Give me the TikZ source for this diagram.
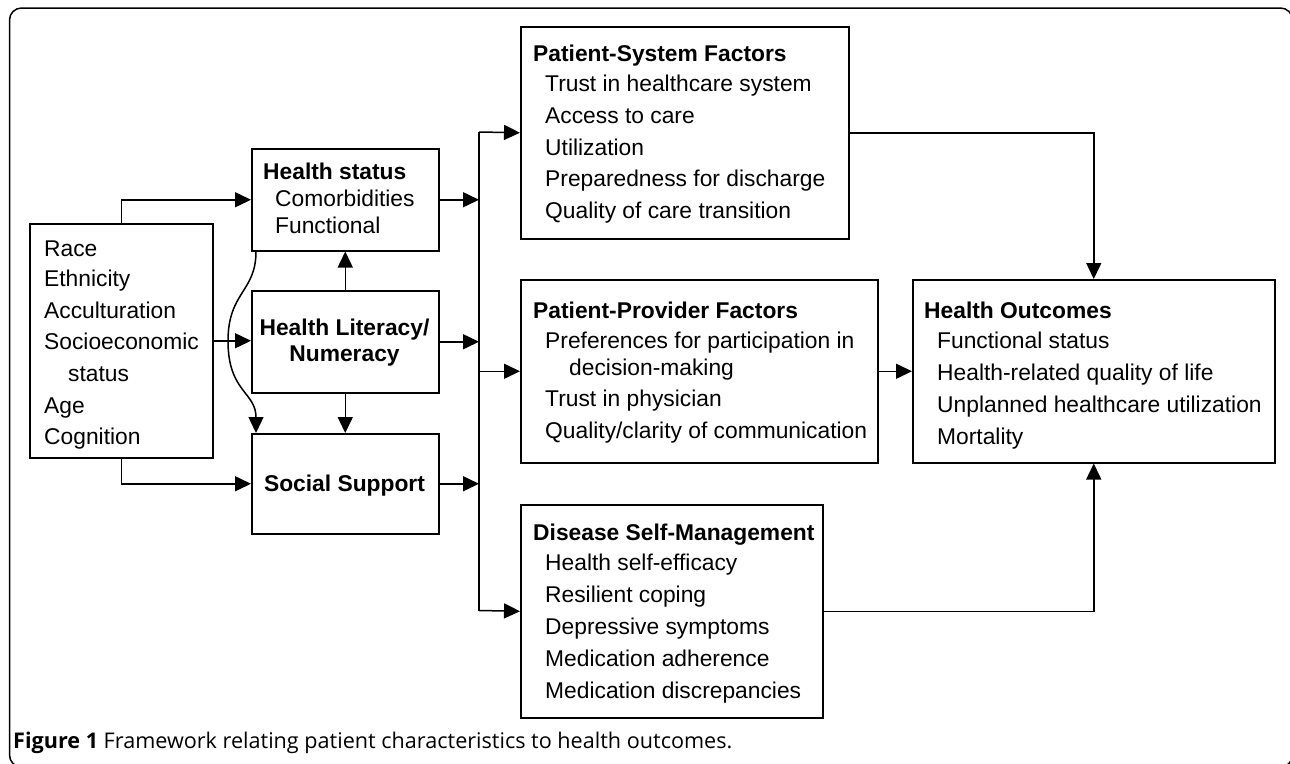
\documentclass[tikz,border=0pt]{standalone}
\usepackage{fontspec}
\setmainfont{Liberation Sans}
\newfontfamily\capfont{Open Sans}
\usetikzlibrary{arrows.meta}
\begin{document}
\begin{tikzpicture}[x=1pt,y=-1pt,
  box/.style={draw, line width=1.5pt, inner sep=0pt, anchor=north west},
  txt/.style={anchor=base west, inner sep=0pt, font=\fontsize{22.8}{30}\selectfont},
  ctxt/.style={anchor=base, inner sep=0pt, font=\fontsize{22.8}{30}\selectfont\bfseries},
  ttl/.style={anchor=base west, inner sep=0pt, font=\fontsize{22.8}{30}\selectfont\bfseries},
  ln/.style={line width=1.5pt},
  conn/.style={line width=1.5pt, -{Triangle[length=16pt,width=15pt]}}]
\useasboundingbox (0,0) rectangle (1290,763);
% outer frame
\draw[line width=1.5pt, rounded corners=12pt] (9.5,8) rectangle (1292.5,767);

% boxes
\node[box, minimum width=183pt, minimum height=234pt] (demo) at (29,223) {};
\node[box, minimum width=187pt, minimum height=102pt] (hs) at (251,148) {};
\node[box, minimum width=187pt, minimum height=102pt] (hl) at (251,290) {};
\node[box, minimum width=187pt, minimum height=100pt] (ss) at (251,433) {};
\node[box, minimum width=328pt, minimum height=212pt] (psf) at (520,26) {};
\node[box, minimum width=357pt, minimum height=183pt] (pp) at (520,279) {};
\node[box, minimum width=302pt, minimum height=213pt] (dsm) at (520,504) {};
\node[box, minimum width=362pt, minimum height=183pt] (ho) at (912,279) {};

% demographic texts
\node[txt] (d1) at (44,256) {Race};
\node[txt] (d2) at (44,286) {Ethnicity};
\node[txt] (d3) at (44,318) {Acculturation};
\node[txt] (d4) at (44,349) {Socioeconomic};
\node[txt] (d5) at (68,381) {status};
\node[txt] (d6) at (44,413) {Age};
\node[txt] (d7) at (44,444) {Cognition};

% health status
\node[ttl] (hst) at (263,179) {Health status};
\node[txt] (hs1) at (275,206) {Comorbidities};
\node[txt] (hs2) at (275,233) {Functional};

% health literacy
\node[ctxt] (hlt1) at (344.5,335) {Health Literacy/};
\node[ctxt] (hlt2) at (344.5,361) {Numeracy};

% social support
\node[ctxt] (sst) at (344.5,491) {Social Support};

% patient-system
\node[ttl] (psft) at (533,61) {Patient-System Factors};
\node[txt] (psf1) at (545,91) {Trust in healthcare system};
\node[txt] (psf2) at (545,123) {Access to care};
\node[txt] (psf3) at (545,155) {Utilization};
\node[txt] (psf4) at (545,186) {Preparedness for discharge};
\node[txt] (psf5) at (545,218) {Quality of care transition};

% patient-provider
\node[ttl] (ppt) at (533,318) {Patient-Provider Factors};
\node[txt] (pp1) at (545,348) {Preferences for participation in};
\node[txt] (pp2) at (569,375) {decision-making};
\node[txt] (pp3) at (545,406) {Trust in physician};
\node[txt] (pp4) at (545,438) {Quality/clarity of communication};

% disease self-management
\node[ttl] (dsmt) at (533,540) {Disease Self-Management};
\node[txt] (dsm1) at (545,570) {Health self-efficacy};
\node[txt] (dsm2) at (545,602) {Resilient coping};
\node[txt] (dsm3) at (545,634) {Depressive symptoms};
\node[txt] (dsm4) at (545,666) {Medication adherence};
\node[txt] (dsm5) at (545,698) {Medication discrepancies};

% health outcomes
\node[ttl] (hot) at (924,318) {Health Outcomes};
\node[txt] (ho1) at (937,348) {Functional status};
\node[txt] (ho2) at (937,380) {Health-related quality of life};
\node[txt] (ho3) at (937,412) {Unplanned healthcare utilization};
\node[txt] (ho4) at (937,444) {Mortality};

% caption
\node[anchor=base west, inner sep=0pt, font=\capfont\fontsize{21.6}{24}\selectfont] (cap) at (13,748)
  {\textbf{Figure 1} Framework relating patient characteristics to health outcomes.};

% connectors left
\draw[conn] (demo.north) |- (hs.west);
\draw[conn] (demo.south) |- (ss.west);
\draw[conn] (demo.east) -- (demo.east -| hl.west);
\draw[conn] (hl.north) -- (hs.south);
\draw[conn] (hl.south) -- (ss.north);
\draw[conn] ([xshift=5pt]hs.south west) .. controls (256,292) and (228,292) .. (228,341)
  .. controls (228,392) and (256,392) .. ([xshift=5pt]ss.north west);

% bus
\coordinate (bt) at (479,132);
\coordinate (bb) at (479,610.5);
\draw[ln] (bt) -- (bb);
\draw[conn] (hs.east) -- (hs.east -| bt);
\draw[conn] (hl.east) -- (hl.east -| bt);
\draw[conn] (ss.east) -- (ss.east -| bt);
\draw[conn] (bt) -- (psf.west);
\draw[conn] (pp.west -| bt) -- (pp.west);
\draw[conn] (bb) -- (dsm.west);

% to outcomes
\draw[conn] (psf.east) -| (ho.north);
\draw[conn] (pp.east) -- (ho.west);
\draw[conn] (dsm.east) -| (ho.south);
\end{tikzpicture}
\end{document}
